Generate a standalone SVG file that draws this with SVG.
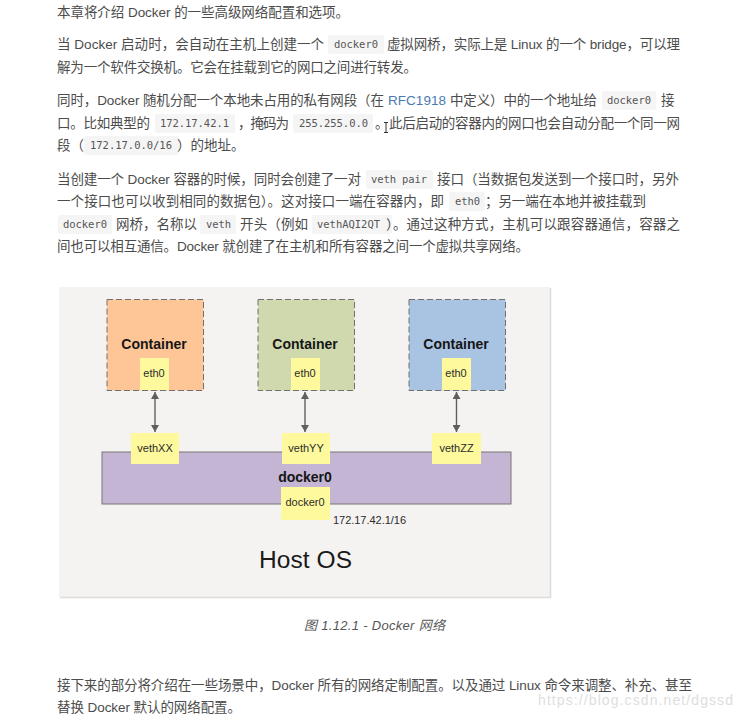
<svg xmlns="http://www.w3.org/2000/svg" width="733" height="717" viewBox="0 0 733 717">
<defs>
<style>
text{font-family:"Liberation Sans","Noto Sans CJK SC",sans-serif}
.t{font-size:13.5px;fill:#4c4c4c}
.l{fill:#4c7ab0}
.c{font-family:"DejaVu Sans Mono","Liberation Mono","Noto Sans CJK SC",monospace;font-size:10.5px;fill:#555}
.cb{fill:#f5f5f5}
.d{font-family:"Liberation Sans",Arial,sans-serif}
.box{stroke:#707070;stroke-width:1;stroke-dasharray:6 3}
.y{fill:#fdf99c}
.s{font-family:"Liberation Sans",Arial,sans-serif;font-size:11px;fill:#2c2c2c;text-anchor:middle}
.h{font-family:"Liberation Sans",Arial,sans-serif;font-size:14px;font-weight:bold;fill:#161616;text-anchor:middle}
.a{stroke:#5f5f5f;stroke-width:1.4;fill:none;marker-start:url(#ah);marker-end:url(#ah)}
</style>
<marker id="ah" markerUnits="userSpaceOnUse" markerWidth="8" markerHeight="8" refX="7" refY="4" orient="auto-start-reverse"><path d="M0 0L7 4L0 8Z" fill="#5f5f5f"/></marker>
</defs>
<rect width="733" height="717" fill="#fff"/>
<g id="article-top">
<rect class="cb" x="328" y="35" width="56" height="19" rx="2"/>
<rect class="cb" x="602" y="91" width="54" height="19" rx="2"/>
<rect class="cb" x="155" y="114" width="80" height="19" rx="2"/>
<rect class="cb" x="293" y="114" width="80" height="19" rx="2"/>
<rect class="cb" x="84" y="136" width="95" height="19" rx="2"/>
<rect class="cb" x="366" y="170" width="67" height="19" rx="2"/>
<rect class="cb" x="449" y="192" width="36" height="19" rx="2"/>
<rect class="cb" x="58" y="215" width="54" height="19" rx="2"/>
<rect class="cb" x="200" y="215" width="36" height="19" rx="2"/>
<rect class="cb" x="312" y="215" width="80" height="19" rx="2"/>
<text class="t" x="57" y="17" textLength="292">本章将介绍 Docker 的一些高级网络配置和选项。</text>
<text class="t" x="57" y="49" textLength="267">当 Docker 启动时，会自动在主机上创建一个</text>
<text class="c" x="334" y="48" textLength="44">docker0</text>
<text class="t" x="387" y="49" textLength="293">虚拟网桥，实际上是 Linux 的一个 bridge，可以理</text>
<text class="t" x="57" y="72" textLength="360">解为一个软件交换机。它会在挂载到它的网口之间进行转发。</text>
<text class="t" x="57" y="105" textLength="327">同时，Docker 随机分配一个本地未占用的私有网段（在</text>
<text class="t l" x="388" y="105" textLength="58">RFC1918</text>
<text class="t" x="450" y="105" textLength="147">中定义）中的一个地址给</text>
<text class="c" x="607" y="104" textLength="44">docker0</text>
<text class="t" x="661" y="105">接</text>
<text class="t" x="57" y="128" textLength="93">口。比如典型的</text>
<text class="c" x="160" y="127" textLength="69">172.17.42.1</text>
<text class="t" x="238" y="128" textLength="51">，掩码为</text>
<text class="c" x="299" y="127" textLength="69">255.255.0.0</text>
<text class="t" x="375" y="128">。</text>
<text class="t" x="389" y="128" textLength="291">此后启动的容器内的网口也会自动分配一个同一网</text>
<text class="t" x="57" y="150" textLength="27">段（</text>
<text class="c" x="90" y="149" textLength="82">172.17.0.0/16</text>
<text class="t" x="177" y="150">）的地址。</text>
<text class="t" x="57" y="184" textLength="304">当创建一个 Docker 容器的时候，同时会创建了一对</text>
<text class="c" x="371" y="183" textLength="56">veth pair</text>
<text class="t" x="437" y="184" textLength="242">接口（当数据包发送到一个接口时，另外</text>
<text class="t" x="57" y="206" textLength="387">一个接口也可以收到相同的数据包）。这对接口一端在容器内，即</text>
<text class="c" x="455" y="205" textLength="25">eth0</text>
<text class="t" x="485" y="206" textLength="161">；另一端在本地并被挂载到</text>
<text class="c" x="63" y="228" textLength="44">docker0</text>
<text class="t" x="116" y="229" textLength="81">网桥，名称以</text>
<text class="c" x="206" y="228" textLength="25">veth</text>
<text class="t" x="240" y="229" textLength="68">开头（例如</text>
<text class="c" x="317" y="228" textLength="63">vethAQI2QT</text>
<text class="t" x="386" y="229" textLength="294">）。通过这种方式，主机可以跟容器通信，容器之</text>
<text class="t" x="57" y="251" textLength="472">间也可以相互通信。Docker 就创建了在主机和所有容器之间一个虚拟共享网络。</text>
<path d="M384 122.500h4M386 122.500v10M384 132.500h4" stroke="#333" stroke-width="1" fill="none"/>
</g>
<rect id="panel" x="59" y="287" width="491" height="310" fill="#f5f3f1"/>
<path d="M60 597.500H550.500V288" fill="none" stroke="#dcdcdc" stroke-width="1.500"/>
<g id="bridge"><rect x="102" y="452" width="409" height="52" fill="#c3b5d3" stroke="#777" stroke-width="1"/><text class="h" x="305" y="482">docker0</text></g>
<g id="container-1"><rect class="box" x="107" y="299.500" width="96.500" height="91" fill="#fec697"/><text class="h" x="154" y="349">Container</text></g>
<g id="container-2"><rect class="box" x="258" y="299.500" width="96.500" height="91" fill="#d0d9ae"/><text class="h" x="305" y="349">Container</text></g>
<g id="container-3"><rect class="box" x="409" y="299.500" width="96.500" height="91" fill="#a9c3e2"/><text class="h" x="456" y="349">Container</text></g>
<g id="connectors">
<path class="a" d="M155 392V432"/>
<path class="a" d="M305 392V432"/>
<path class="a" d="M456.500 392V432"/>
</g>
<g id="eth0-1"><rect class="y" x="140" y="358" width="29" height="32"/><text class="s" x="154" y="377">eth0</text></g>
<g id="eth0-2"><rect class="y" x="291" y="358" width="29" height="32"/><text class="s" x="305" y="377">eth0</text></g>
<g id="eth0-3"><rect class="y" x="442" y="358" width="29" height="32"/><text class="s" x="456" y="377">eth0</text></g>
<g id="vethXX"><rect class="y" x="131" y="433" width="48" height="31"/><text class="s" x="155" y="452">vethXX</text></g>
<g id="vethYY"><rect class="y" x="282" y="433" width="48" height="31"/><text class="s" x="306" y="452">vethYY</text></g>
<g id="vethZZ"><rect class="y" x="432" y="433" width="49" height="31"/><text class="s" x="456.500" y="452">vethZZ</text></g>
<g id="docker0"><rect class="y" x="281" y="487" width="49" height="33"/><text class="s" x="305" y="506">docker0</text></g>
<text id="ip" class="s" x="333" y="524" style="text-anchor:start" textLength="73">172.17.42.1/16</text>
<text id="host-os" class="d" x="259" y="568" font-size="24.500" fill="#1a1a1a" textLength="93">Host OS</text>
<g id="article-bottom">
<text x="304" y="630" font-size="13" font-style="italic" fill="#555" textLength="141">图 1.12.1 - Docker 网络</text>
<text class="t" x="57" y="690" textLength="635">接下来的部分将介绍在一些场景中，Docker 所有的网络定制配置。以及通过 Linux 命令来调整、补充、甚至</text>
<text class="t" x="57" y="712" textLength="184">替换 Docker 默认的网络配置。</text>
<text x="538" y="705" font-size="14" fill="#dedede" textLength="195">https://blog.csdn.net/dgssd</text>
</g>
</svg>
